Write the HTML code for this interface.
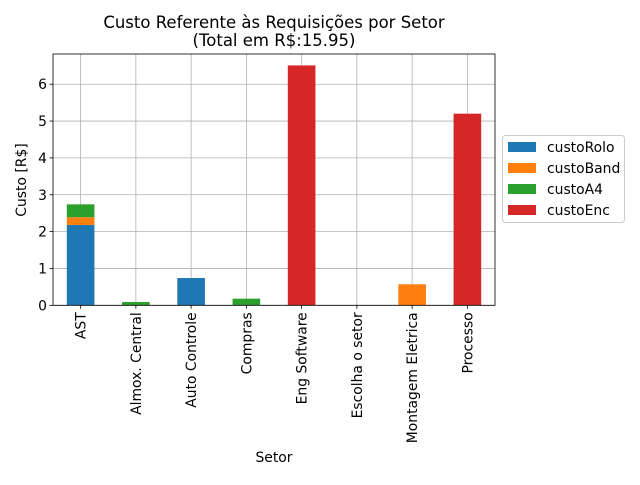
<!DOCTYPE html>
<html><head><meta charset="utf-8"><style>
body{margin:0;background:#fff;font-family:"Liberation Sans","DejaVu Sans",sans-serif}
svg text{font-family:"DejaVu Sans","Liberation Sans",sans-serif;fill:#000}
</style></head><body>
<svg id="c" width="640" height="480"></svg>
<script>
const categories=["AST","Almox. Central","Auto Controle","Compras","Eng Software","Escolha o setor","Montagem Eletrica","Processo"];
const custoRolo=[2.18,0,0.74,0,0,0,0,0];
const custoBand=[0.21,0,0,0,0,0,0.57,0];
const custoA4=[0.35,0.09,0,0.18,0,0,0,0];
const custoEnc=[0,0,0,0,6.51,0,0,5.2];
const yTicks=[0,1,2,3,4,5,6];
const seriesNames=["custoRolo","custoBand","custoA4","custoEnc"];
const colors=["#1f77b4","#ff7f0e","#2ca02c","#d62728"];
const series=[custoRolo,custoBand,custoA4,custoEnc];
const L=53,R=495,T=54,B=305.3,ymax=6.82;
const NS="http://www.w3.org/2000/svg";
const svg=document.getElementById('c');
function y(v){return B-v/ymax*(B-T);}
const step=(R-L)/categories.length;
function xc(i){return L+step*(i+0.5);}
function el(t,a,p){const e=document.createElementNS(NS,t);for(const k in a)e.setAttribute(k,a[k]);(p||svg).appendChild(e);return e;}
categories.forEach((c,i)=>{const g=el('line',{x1:xc(i),x2:xc(i),y1:T,y2:B,stroke:'#b0b0b0','stroke-width':0.8});

});
yTicks.forEach(v=>{const g=el('line',{x1:L,x2:R,y1:y(v),y2:y(v),stroke:'#b0b0b0','stroke-width':0.8});

});
categories.forEach((c,i)=>{let base=0;series.forEach((s,k)=>{const v=s[i];if(v>0){const r=el('rect',{x:xc(i)-step/4,width:step/2,y:y(base+v),height:y(base)-y(base+v),fill:colors[k]});

}base+=v;});});
const fr=el('rect',{x:L,y:T,width:R-L,height:B-T,fill:'none',stroke:'#000','stroke-width':0.8});


yTicks.forEach(v=>{el('line',{x1:L-3.5,x2:L,y1:y(v),y2:y(v),stroke:'#000','stroke-width':0.8});
const t=el('text',{x:L-6,y:y(v)+5,'text-anchor':'end','font-size':13.9});t.textContent=v;

});
categories.forEach((c,i)=>{el('line',{x1:xc(i),x2:xc(i),y1:B,y2:B+3.5,stroke:'#000','stroke-width':0.8});
const t=el('text',{x:0,y:0,'text-anchor':'end','font-size':13.9,transform:`translate(${xc(i)+5},${B+7}) rotate(-90)`});t.textContent=c;

});
</script>
<svg width="640" height="480" style="position:absolute;left:0;top:0">
<text x="274" y="28" text-anchor="middle" font-size="16.5">Custo Referente às Requisições por Setor</text>
<text x="274" y="46" text-anchor="middle" font-size="16.5">(Total em R$:15.95)</text>
<text x="274" y="462" text-anchor="middle" font-size="13.9">Setor</text>
<text transform="translate(26,180) rotate(-90)" text-anchor="middle" font-size="13.9">Custo [R$]</text>
<g>
<rect x="502.5" y="135.5" width="122" height="87" rx="3" fill="#fff" stroke="#ccc"/>
<rect x="508" y="142" width="28" height="10" fill="#1f77b4"/>
<text x="547" y="152" font-size="13.9">custoRolo</text>
<rect x="508" y="163" width="28" height="10" fill="#ff7f0e"/>
<text x="547" y="173" font-size="13.9">custoBand</text>
<rect x="508" y="184" width="28" height="10" fill="#2ca02c"/>
<text x="547" y="194" font-size="13.9">custoA4</text>
<rect x="508" y="205" width="28" height="10" fill="#d62728"/>
<text x="547" y="215" font-size="13.9">custoEnc</text>
</g>
</svg>
</body></html>
